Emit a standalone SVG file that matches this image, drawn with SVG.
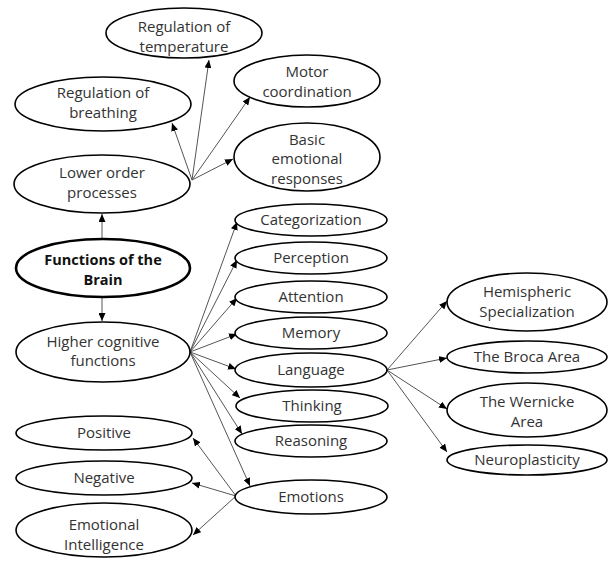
<svg xmlns="http://www.w3.org/2000/svg" width="609" height="561" viewBox="0 0 609 561">
<style>
.n ellipse{fill:#fff;stroke:#000;stroke-width:1.6}
.n text{font-family:"Open Sans",Lato,"Liberation Sans",sans-serif;font-size:15px;fill:#333;text-anchor:middle}
#brain ellipse{stroke-width:2.6}
#brain text{font-weight:bold;fill:#111;font-size:14.5px}
.c line{stroke:#555;stroke-width:1}
</style>
<defs>
<marker id="ah" markerUnits="userSpaceOnUse" markerWidth="9" markerHeight="7" refX="8" refY="3.5" orient="auto">
<path d="M0,0 L8,3.5 L0,7 z" fill="#000"/>
</marker>
</defs>
<g class="c">
<line x1="192" y1="180" x2="172" y2="123" marker-end="url(#ah)"/>
<line x1="192" y1="180" x2="209" y2="60" marker-end="url(#ah)"/>
<line x1="192" y1="180" x2="250" y2="97" marker-end="url(#ah)"/>
<line x1="192" y1="180" x2="233" y2="159" marker-end="url(#ah)"/>
<line x1="102" y1="239" x2="102" y2="214" marker-end="url(#ah)"/>
<line x1="102" y1="297" x2="102" y2="321" marker-end="url(#ah)"/>
<line x1="190" y1="352" x2="237" y2="222" marker-end="url(#ah)"/>
<line x1="190" y1="352" x2="237" y2="260" marker-end="url(#ah)"/>
<line x1="190" y1="352" x2="237" y2="298" marker-end="url(#ah)"/>
<line x1="190" y1="352" x2="237" y2="334" marker-end="url(#ah)"/>
<line x1="190" y1="352" x2="236" y2="369" marker-end="url(#ah)"/>
<line x1="190" y1="352" x2="240" y2="398" marker-end="url(#ah)"/>
<line x1="190" y1="352" x2="242" y2="434" marker-end="url(#ah)"/>
<line x1="190" y1="352" x2="250" y2="486" marker-end="url(#ah)"/>
<line x1="236" y1="496" x2="193" y2="438" marker-end="url(#ah)"/>
<line x1="236" y1="496" x2="192" y2="483" marker-end="url(#ah)"/>
<line x1="236" y1="496" x2="193" y2="535" marker-end="url(#ah)"/>
<line x1="387" y1="370" x2="447" y2="301" marker-end="url(#ah)"/>
<line x1="387" y1="370" x2="447" y2="358" marker-end="url(#ah)"/>
<line x1="387" y1="370" x2="447" y2="409" marker-end="url(#ah)"/>
<line x1="387" y1="370" x2="447" y2="452" marker-end="url(#ah)"/>
</g>
<g id="temp" class="n"><ellipse cx="184" cy="33" rx="78" ry="25"/><text x="184" y="32">Regulation of</text><text x="184" y="52">temperature</text></g>
<g id="motor" class="n"><ellipse cx="307" cy="81" rx="73" ry="26"/><text x="307" y="77">Motor</text><text x="307" y="97">coordination</text></g>
<g id="breath" class="n"><ellipse cx="103" cy="104" rx="88" ry="27"/><text x="103" y="98">Regulation of</text><text x="103" y="118">breathing</text></g>
<g id="basic" class="n"><ellipse cx="307" cy="157" rx="73" ry="34"/><text x="307" y="145">Basic</text><text x="307" y="164">emotional</text><text x="307" y="184">responses</text></g>
<g id="lower" class="n"><ellipse cx="102" cy="184" rx="88" ry="29"/><text x="102" y="178">Lower order</text><text x="102" y="198">processes</text></g>
<g id="brain" class="n"><ellipse cx="103" cy="268" rx="87" ry="29"/><text x="103" y="265">Functions of the</text><text x="103" y="285">Brain</text></g>
<g id="higher" class="n"><ellipse cx="103" cy="352" rx="87" ry="30"/><text x="103" y="347">Higher cognitive</text><text x="103" y="366">functions</text></g>
<g id="categ" class="n"><ellipse cx="311" cy="220" rx="76" ry="16"/><text x="311" y="225">Categorization</text></g>
<g id="perc" class="n"><ellipse cx="311" cy="258" rx="76" ry="16"/><text x="311" y="263">Perception</text></g>
<g id="attn" class="n"><ellipse cx="311" cy="297" rx="76" ry="16"/><text x="311" y="302">Attention</text></g>
<g id="mem" class="n"><ellipse cx="311" cy="333" rx="76" ry="16"/><text x="311" y="338">Memory</text></g>
<g id="lang" class="n"><ellipse cx="311" cy="370" rx="76" ry="17"/><text x="311" y="375">Language</text></g>
<g id="think" class="n"><ellipse cx="312" cy="406" rx="76" ry="16"/><text x="312" y="411">Thinking</text></g>
<g id="reason" class="n"><ellipse cx="311" cy="441" rx="76" ry="16"/><text x="311" y="446">Reasoning</text></g>
<g id="emot" class="n"><ellipse cx="311" cy="497" rx="76" ry="17"/><text x="311" y="502">Emotions</text></g>
<g id="pos" class="n"><ellipse cx="104" cy="433" rx="88" ry="17"/><text x="104" y="438">Positive</text></g>
<g id="neg" class="n"><ellipse cx="104" cy="478" rx="88" ry="17"/><text x="104" y="483">Negative</text></g>
<g id="ei" class="n"><ellipse cx="104" cy="530" rx="88" ry="27"/><text x="104" y="530">Emotional</text><text x="104" y="550">Intelligence</text></g>
<g id="hemi" class="n"><ellipse cx="527" cy="302" rx="80" ry="29"/><text x="527" y="297">Hemispheric</text><text x="527" y="317">Specialization</text></g>
<g id="broca" class="n"><ellipse cx="527" cy="357" rx="80" ry="16"/><text x="527" y="362">The Broca Area</text></g>
<g id="wern" class="n"><ellipse cx="527" cy="410" rx="80" ry="27"/><text x="527" y="407">The Wernicke</text><text x="527" y="427">Area</text></g>
<g id="neuro" class="n"><ellipse cx="527" cy="460" rx="80" ry="15"/><text x="527" y="465">Neuroplasticity</text></g>
</svg>
